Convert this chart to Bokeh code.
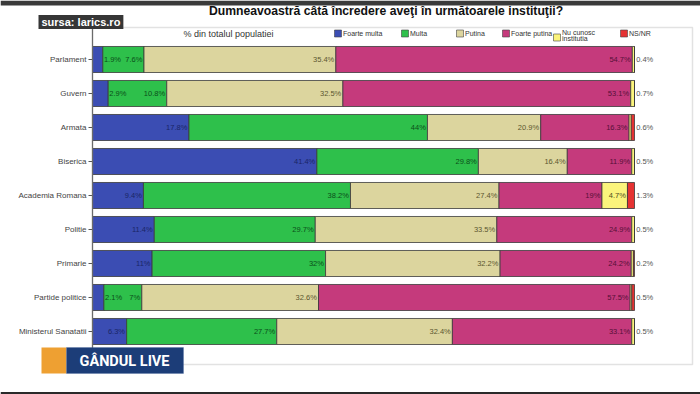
from bokeh.plotting import figure
from bokeh.models import ColumnDataSource, Range1d, Label, FixedTicker, BoxAnnotation
from bokeh.core.properties import value
from bokeh.embed import file_html
from bokeh.resources import INLINE

title = "Dumneavoastră câtă încredere aveţi în următoarele instituţii?"
subtitle = "% din totalul populatiei"
source_text = "sursa: larics.ro"
logo_text = "GÂNDUL LIVE"

categories = ["Parlament", "Guvern", "Armata", "Biserica", "Academia Romana",
              "Politie", "Primarie", "Partide politice", "Ministerul Sanatatii"]
series_names = ["Foarte multa", "Multa", "Putina", "Foarte putina",
                "Nu cunosc\ninstitutia", "NS/NR"]
foarte_multa = [1.9, 2.9, 17.8, 41.4, 9.4, 11.4, 11, 2.1, 6.3]
multa = [7.6, 10.8, 44, 29.8, 38.2, 29.7, 32, 7, 27.7]
putina = [35.4, 32.5, 20.9, 16.4, 27.4, 33.5, 32.2, 32.6, 32.4]
foarte_putina = [54.7, 53.1, 16.3, 11.9, 19, 24.9, 24.2, 57.5, 33.1]
nu_cunosc = [0.4, 0.7, 0.4, 0.5, 4.7, 0.5, 0.4, 0.3, 0.5]
ns_nr = [0, 0, 0.6, 0, 1.3, 0, 0.2, 0.5, 0]

series = [foarte_multa, multa, putina, foarte_putina, nu_cunosc, ns_nr]
colors = ["#3b4db3", "#2ec04b", "#dcd59e", "#c53a7c", "#fbf47c", "#e53232"]
text_colors = ["#1a2566", "#0b4f1a", "#5b5630", "#551038", "#4f4f1c", "#5a1010"]

PX = 5.42  # pixels per percent
def dx(px):
    return (px - 92) / PX
def dy(py):
    return (py - 59) / 34.0

keys = [f"s{j}" for j in range(len(series))]
data = {"y": list(range(len(categories)))}
for k, s in zip(keys, series):
    data[k] = s
source = ColumnDataSource(data)

# the frame covers the whole canvas; the category axis sits at x = 0
p = figure(width=700, height=394, output_backend="svg", toolbar_location=None,
           x_range=Range1d(dx(0), dx(700)), y_range=Range1d(dy(394), dy(0)),
           min_border=0, min_border_left=0, min_border_right=0,
           min_border_top=0, min_border_bottom=0)
p.background_fill_color = "white"
p.border_fill_color = "white"
p.outline_line_color = None
p.xgrid.visible = False
p.ygrid.visible = False
p.xaxis.visible = False

# screenshot bands and chart box
p.add_layout(BoxAnnotation(left=dx(0), right=dx(700), top=dy(0), bottom=dy(5),
                           fill_color="#3a3a3a", fill_alpha=1, line_color=None))
p.add_layout(BoxAnnotation(left=dx(0), right=dx(700), top=dy(391.5), bottom=dy(394),
                           fill_color="#2a2a2a", fill_alpha=1, line_color=None))
p.add_layout(BoxAnnotation(left=0, right=dx(692), top=dy(27), bottom=dy(364),
                           fill_alpha=0, line_color="#a0a0a0", line_width=1.5))

p.hbar_stack(keys, y="y", height=0.765, color=colors, line_color="#3a3a3a",
             line_width=0.8, source=source)

# segment labels
lx, ly, lt, lc, la = [], [], [], [], []
for i in range(len(categories)):
    vals = [s[i] for s in series]
    last = max(j for j, v in enumerate(vals) if v > 0)
    left = 0.0
    for j, v in enumerate(vals):
        if v <= 0:
            continue
        right = left + v
        txt = f"{v:g}%"
        if j == last:
            lx.append(right + 0.3); la.append("left"); lc.append("#555555")
        elif v < 4 and j >= 4:
            left = right
            continue
        elif v < 4:
            lx.append(right + 0.2); la.append("left"); lc.append(text_colors[j + 1])
        else:
            lx.append(right - 0.3); la.append("right"); lc.append(text_colors[j])
        ly.append(i); lt.append(txt)
        left = right
lsrc = ColumnDataSource(dict(x=lx, y=ly, t=lt, c=lc, a=la))
p.text(x="x", y="y", text="t", text_color="c", text_align="a",
       text_baseline="middle", text_font=value("Liberation Sans"),
       text_font_size="7.5px", source=lsrc)

# y axis (library axis, fixed at x = 0)
p.yaxis.fixed_location = 0
p.yaxis.bounds = (dy(27), dy(364))
p.yaxis.ticker = FixedTicker(ticks=list(range(len(categories))))
p.yaxis.major_label_overrides = {i: c for i, c in enumerate(categories)}
p.yaxis.minor_tick_line_color = None
p.yaxis.major_tick_in = 0
p.yaxis.major_tick_out = 4
p.yaxis.major_tick_line_color = "#555555"
p.yaxis.axis_line_color = "#555555"
p.yaxis.axis_line_width = 1.2
p.yaxis.major_label_text_font = "Liberation Sans"
p.yaxis.major_label_text_font_size = "8px"
p.yaxis.major_label_text_color = "#444444"
p.yaxis.major_label_standoff = 2

# legend (header row)
sq_px = [337.5, 404.5, 459.5, 505.5, 556.5, 623.5]
sq_py = [33, 33, 33, 33, 37, 33]
tx_py = [33, 33, 33, 33, 35, 33]
p.scatter([dx(v) for v in sq_px], [dy(v) for v in sq_py], marker="square", size=7,
          fill_color=colors, line_color="#444444", line_width=0.6)
p.text([dx(v + 5) for v in sq_px], [dy(v) for v in tx_py], text=series_names,
       text_baseline="middle", text_align="left", text_font=value("Liberation Sans"),
       text_font_size="7px", text_color="#333333", text_line_height=0.95)

p.add_layout(Label(x=dx(228), y=dy(33), text=subtitle, text_align="center",
                   text_baseline="middle", text_font="Liberation Sans",
                   text_font_size="9px", text_color="#333333"))
p.add_layout(Label(x=dx(385.5), y=dy(10), text=title, text_align="center",
                   text_baseline="middle", text_font="Liberation Sans",
                   text_font_size="12.2px", text_font_style="bold",
                   text_color="#111111"))
p.add_layout(Label(x=dx(38), y=dy(21.5), text=source_text, text_align="left",
                   text_baseline="middle", text_font="Liberation Sans",
                   text_font_size="11px", text_font_style="bold",
                   text_color="white", background_fill_color="#363636",
                   padding=dict(left=3, right=3, top=1, bottom=1)))

# logo
p.add_layout(BoxAnnotation(left=dx(41), right=dx(66), top=dy(347), bottom=dy(373),
                           fill_color="#eea032", fill_alpha=1, line_color=None,
                           level="overlay"))
p.add_layout(BoxAnnotation(left=dx(66), right=dx(183), top=dy(347), bottom=dy(373),
                           fill_color="#1c3d78", fill_alpha=1,
                           line_color="#4a6aa0", line_width=1, level="overlay"))
p.add_layout(Label(x=dx(79), y=dy(361), text=logo_text, text_align="left",
                   text_baseline="middle", text_font="Roboto",
                   text_font_size="14.5px", text_font_style="bold",
                   text_color="white", level="overlay"))

open("out.html", "w").write(file_html(p, INLINE))
